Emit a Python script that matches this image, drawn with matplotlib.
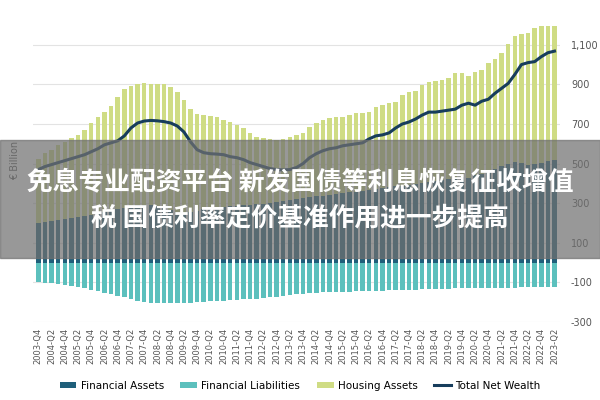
import matplotlib
matplotlib.use("Agg")
import matplotlib.pyplot as plt
from matplotlib import font_manager as fm
import numpy as np
from matplotlib.patches import Rectangle

quarters = []
for y in range(2003, 2024):
    for q in range(1, 5):
        if (y == 2003 and q < 4) or (y == 2023 and q > 2):
            continue
        quarters.append(f"{y}-Q{q}")

total_assets = [525,555,570,596,611,631,646,672,707,737,763,793,838,879,894,904,909,904,904,904,
                889,864,823,778,753,747,742,737,722,712,697,682,657,636,631,625,620,625,
                636,646,657,687,707,722,732,737,737,747,758,758,763,788,798,808,813,848,864,869,
                899,914,919,924,934,960,960,944,965,975,1010,1030,1061,1106,1146,1157,1162,1187,1197,1197,1197]
financial_assets = [200,205,210,215,220,225,230,235,242,250,
                    255,262,270,278,285,290,292,290,285,275,
                    265,255,250,255,262,270,275,280,282,285,
                    288,290,292,295,298,300,305,310,315,320,
                    325,330,335,338,342,346,350,355,358,362,
                    366,370,375,380,385,388,392,396,400,405,
                    410,415,420,425,430,428,440,450,460,475,
                    490,500,510,505,495,498,505,515,520]
financial_liabilities = [-100,-102,-105,-110,-115,-120,-125,-130,-138,-145,
                         -152,-160,-168,-175,-185,-192,-198,-203,-205,-206,
                         -206,-206,-205,-203,-200,-198,-196,-194,-192,-190,
                         -188,-186,-184,-182,-180,-176,-172,-168,-164,-160,
                         -157,-155,-153,-151,-150,-148,-147,-146,-145,-144,
                         -143,-142,-141,-140,-139,-138,-137,-136,-135,-134,
                         -133,-132,-131,-130,-130,-129,-128,-128,-127,-127,
                         -126,-126,-126,-125,-125,-125,-125,-125,-125]
net_wealth = [470,485,495,505,515,525,535,545,560,575,
              595,605,615,640,680,705,715,718,716,712,
              705,690,660,610,570,555,550,548,545,535,
              530,520,505,495,485,475,470,468,470,480,
              500,530,550,565,575,580,590,595,600,605,
              625,640,645,655,680,700,710,725,745,760,
              760,765,770,775,795,805,795,815,825,855,
              880,905,950,1000,1010,1015,1040,1060,1068]
housing_assets = [t - f for t, f in zip(total_assets, financial_assets)]

c_fa, c_fl, c_ha, c_nw = "#1f5f7a", "#5cc0bd", "#cfdc84", "#173d5c"

cjk = None
for f in fm.findSystemFonts():
    if "NotoSansCJK" in f.replace(" ", "") or "NotoSansSC" in f.replace(" ", ""):
        if "Bold" in f:
            cjk = f
            break
        if cjk is None:
            cjk = f
fp = fm.FontProperties(fname=cjk, size=18.5) if cjk else fm.FontProperties(family="Noto Sans CJK SC", size=18.5)

fig = plt.figure(figsize=(6, 4), dpi=100)
ax = fig.add_axes([0.055, 0.195, 0.878, 0.7425])
x = np.arange(len(quarters))
h1 = ax.bar(x, financial_assets, 0.68, color=c_fa, zorder=2)
h2 = ax.bar(x, financial_liabilities, 0.68, color=c_fl, zorder=2)
h3 = ax.bar(x, housing_assets, 0.68, bottom=financial_assets, color=c_ha, zorder=2)
h4, = ax.plot(x, net_wealth, color=c_nw, lw=2.2, zorder=3)

ax.set_xlim(-0.8, len(x) - 0.2)
ax.set_ylim(-300, 1200)
yt = [-300, -100, 100, 300, 500, 700, 900, 1100]
ax.set_yticks(yt)
ax.set_yticklabels([f"{v:,}" for v in yt], fontsize=7, color="#555555")
ax.yaxis.tick_right()
ax.tick_params(axis="y", length=0, pad=8)
ax.grid(axis="y", color="#e3e3e3", lw=0.8, zorder=0)
ax.set_xticks(x[::2])
ax.set_xticklabels(quarters[::2], rotation=90, fontsize=6, color="#555555")
ax.tick_params(axis="x", length=0, pad=4)
for s in ax.spines.values():
    s.set_visible(False)
fig.text(0.025, 0.6, "€ Billion", rotation=90, fontsize=7, color="#555555", va="center", ha="center")

fig.legend([h1, h2, h3, h4], ["Financial Assets", "Financial Liabilities", "Housing Assets", "Total Net Wealth"],
           loc="lower center", bbox_to_anchor=(0.5, 0.0), ncol=4, frameon=False, fontsize=7.5,
           handlelength=1.6, handleheight=0.5, handletextpad=0.4, columnspacing=1.6)

fig.patches.append(Rectangle((0, 0.355), 1, 0.295, transform=fig.transFigure,
                             color="#707070", alpha=0.72, zorder=10))
fig.text(0.5, 0.545, "免息专业配资平台 新发国债等利息恢复征收增值", ha="center", va="center",
         fontproperties=fp, color="white", zorder=11)
fig.text(0.5, 0.455, "税 国债利率定价基准作用进一步提高", ha="center", va="center",
         fontproperties=fp, color="white", zorder=11)

fig.savefig("out.png", dpi=100)
